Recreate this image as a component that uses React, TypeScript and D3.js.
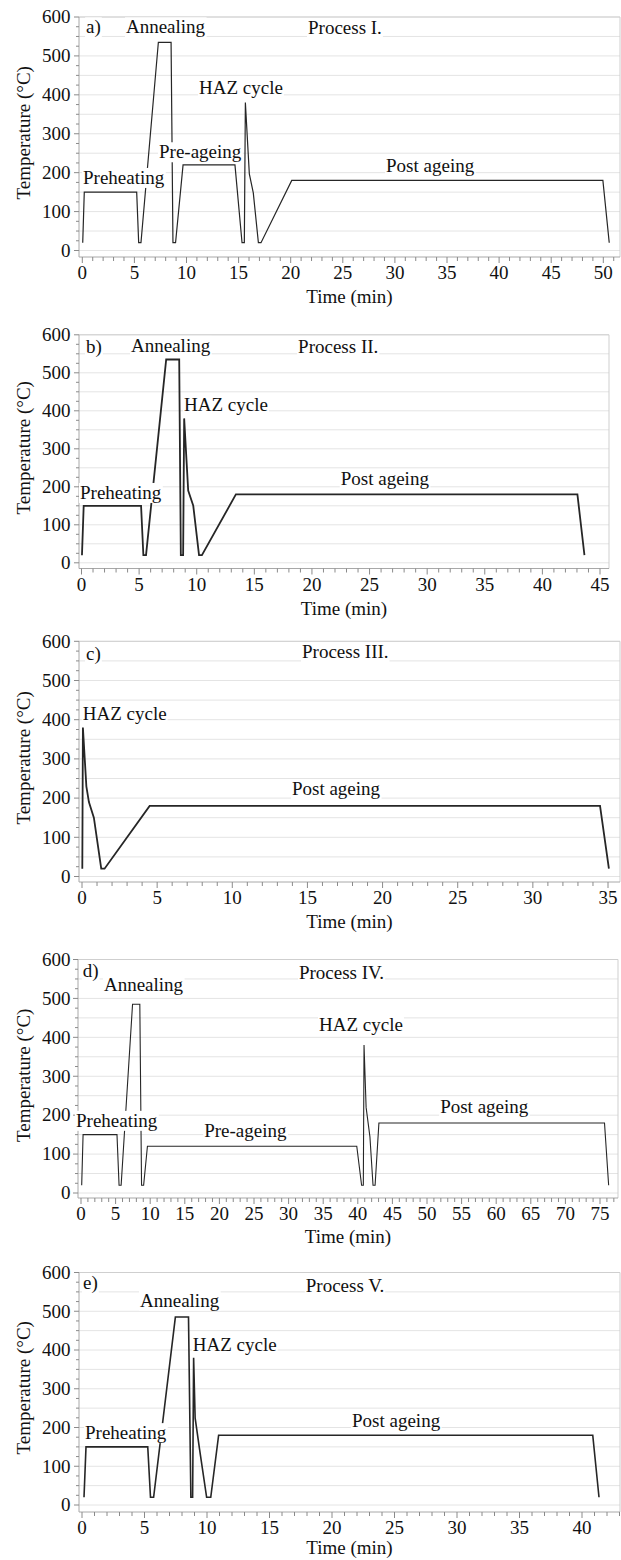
import React, { useEffect, useRef } from "react";
import * as d3 from "d3";

// ---------- DATA ----------
// Process I (panel a)
const timeI = [0.04, 0.19, 5.22, 5.41, 5.63, 7.3, 8.52, 8.7, 8.95, 9.67, 14.65, 15.33, 15.55, 15.65, 16.03, 16.41, 16.9, 17.15, 20.1, 49.96, 50.57];
const tempI = [20, 150, 150, 20, 20, 535, 535, 20, 20, 220, 220, 20, 20, 380, 197, 148, 20, 20, 180, 180, 20];

// Process II (panel b)
const timeII = [0.04, 0.19, 5.17, 5.37, 5.6, 7.35, 8.48, 8.62, 8.82, 8.91, 9.26, 9.7, 10.2, 10.45, 13.4, 43.04, 43.65];
const tempII = [20, 150, 150, 20, 20, 535, 535, 20, 20, 380, 190, 150, 20, 20, 180, 180, 20];

// Process III (panel c)
const timeIII = [0.02, 0.06, 0.29, 0.46, 0.79, 1.28, 1.5, 4.5, 34.47, 35.06];
const tempIII = [20, 380, 230, 190, 150, 20, 20, 180, 180, 20];

// Process IV (panel d)
const timeIV = [0.1, 0.3, 5.2, 5.5, 5.8, 7.45, 8.5, 8.75, 9.05, 9.6, 39.85, 40.55, 40.8, 40.9, 41.2, 41.75, 42.2, 42.5, 43.05, 75.65, 76.25];
const tempIV = [20, 150, 150, 20, 20, 485, 485, 20, 20, 120, 120, 20, 20, 380, 220, 145, 20, 20, 180, 180, 20];

// Process V (panel e)
const timeV = [0.16, 0.32, 5.26, 5.48, 5.73, 7.47, 8.52, 8.71, 8.85, 8.93, 9.05, 9.4, 9.97, 10.3, 10.93, 40.86, 41.36];
const tempV = [20, 150, 150, 20, 20, 485, 485, 20, 20, 380, 225, 145, 20, 20, 180, 180, 20];

// Annotations (anchor in data units: t = min, T = °C at text baseline)
const notesI = [
  { text: "a)", t: 0.36, T: 558 },
  { text: "Annealing", t: 4.19, T: 558 },
  { text: "Process I.", t: 21.66, T: 556 },
  { text: "HAZ cycle", t: 11.2, T: 401 },
  { text: "Pre-ageing", t: 7.36, T: 237 },
  { text: "Preheating", t: 0.07, T: 171 },
  { text: "Post ageing", t: 29.15, T: 202 },
];
const notesII = [
  { text: "b)", t: 0.39, T: 552 },
  { text: "Annealing", t: 4.3, T: 555 },
  { text: "Process II.", t: 18.8, T: 552 },
  { text: "HAZ cycle", t: 8.9, T: 400 },
  { text: "Preheating", t: -0.13, T: 168 },
  { text: "Post ageing", t: 22.5, T: 205 },
];
const notesIII = [
  { text: "c)", t: 0.27, T: 552 },
  { text: "Process III.", t: 14.64, T: 557 },
  { text: "HAZ cycle", t: 0.05, T: 399 },
  { text: "Post ageing", t: 13.97, T: 208 },
];
const notesIV = [
  { text: "d)", t: 0.25, T: 556 },
  { text: "Annealing", t: 3.32, T: 519 },
  { text: "Process IV.", t: 31.5, T: 550 },
  { text: "HAZ cycle", t: 34.4, T: 416 },
  { text: "Preheating", t: -0.72, T: 170 },
  { text: "Pre-ageing", t: 17.8, T: 144 },
  { text: "Post ageing", t: 51.9, T: 206 },
];
const notesV = [
  { text: "e)", t: 0.08, T: 557 },
  { text: "Annealing", t: 4.64, T: 512 },
  { text: "Process V.", t: 17.9, T: 550 },
  { text: "HAZ cycle", t: 8.86, T: 398 },
  { text: "Preheating", t: 0.24, T: 170 },
  { text: "Post ageing", t: 21.6, T: 202 },
];

const yTickValues = [0, 100, 200, 300, 400, 500, 600];
const xTitle = "Time (min)";
const yTitle = "Temperature (°C)";

// ---------- LAYOUT ----------
const PANELS = [
  { time: timeI, temp: tempI, notes: notesI, xRef: 50, xMaxTick: 51, x0: 82.3, x1: 603.3, y0: 250.5, y600: 17, axisY: 257, left: 79, right: 620, sw: 1.2, titleOff: 40 },
  { time: timeII, temp: tempII, notes: notesII, xRef: 45, xMaxTick: 45, x0: 81.5, x1: 600, y0: 562.8, y600: 334.8, axisY: 568.5, left: 79, right: 609, sw: 1.8, titleOff: 40 },
  { time: timeIII, temp: tempIII, notes: notesIII, xRef: 35, xMaxTick: 35, x0: 82, x1: 608, y0: 876.5, y600: 641.3, axisY: 882, left: 79, right: 620, sw: 1.8, titleOff: 40 },
  { time: timeIV, temp: tempIV, notes: notesIV, xRef: 75, xMaxTick: 77, x0: 81, x1: 600, y0: 1193, y600: 959.5, axisY: 1198, left: 78, right: 618, sw: 1.1, titleOff: 39 },
  { time: timeV, temp: tempV, notes: notesV, xRef: 40, xMaxTick: 43, x0: 82, x1: 582, y0: 1505, y600: 1272.5, axisY: 1512, left: 79, right: 620, sw: 1.6, titleOff: 36 },
];

const FONT = '"Liberation Serif", "Times New Roman", serif';
const FS = 19;

export default function App() {
  const ref = useRef<SVGSVGElement>(null);

  useEffect(() => {
    const svg = d3.select(ref.current);
    svg.selectAll("*").remove();

    PANELS.forEach((p) => {
      const g = svg.append("g");
      const x = d3.scaleLinear().domain([0, p.xRef]).range([p.x0, p.x1]);
      const y = d3.scaleLinear().domain([0, 600]).range([p.y0, p.y600]);
      const top = y(600);

      // gridlines
      g.append("g")
        .selectAll("line")
        .data(d3.range(0, 601, 50))
        .join("line")
        .attr("x1", p.left)
        .attr("x2", p.right)
        .attr("y1", (d) => y(d))
        .attr("y2", (d) => y(d))
        .attr("stroke", "#e4e4e4")
        .attr("stroke-width", 1);

      // frame (top & right)
      g.append("path")
        .attr("d", `M${p.left},${top}H${p.right}V${p.axisY}`)
        .attr("fill", "none")
        .attr("stroke", "#cfcfcf")
        .attr("stroke-width", 1);

      // axis lines
      g.append("path")
        .attr("d", `M${p.left},${top}V${p.axisY}H${p.right}`)
        .attr("fill", "none")
        .attr("stroke", "#a8a8a8")
        .attr("stroke-width", 1);

      // y ticks
      g.append("g")
        .selectAll("line")
        .data(d3.range(0, 601, 25))
        .join("line")
        .attr("x1", (d) => p.left - (d % 100 === 0 ? 5 : 3))
        .attr("x2", p.left)
        .attr("y1", (d) => y(d))
        .attr("y2", (d) => y(d))
        .attr("stroke", "#8a8a8a")
        .attr("stroke-width", 1);

      g.append("g")
        .selectAll("text")
        .data(yTickValues)
        .join("text")
        .attr("x", 70.5)
        .attr("y", (d) => y(d))
        .attr("dy", "0.33em")
        .attr("text-anchor", "end")
        .attr("font-family", FONT)
        .attr("font-size", FS)
        .attr("fill", "#111")
        .text((d) => String(d));

      // x ticks
      g.append("g")
        .selectAll("line")
        .data(d3.range(0, p.xMaxTick + 1, 1))
        .join("line")
        .attr("x1", (d) => x(d))
        .attr("x2", (d) => x(d))
        .attr("y1", p.axisY)
        .attr("y2", (d) => p.axisY + (d % 5 === 0 ? 6 : 4))
        .attr("stroke", "#8a8a8a")
        .attr("stroke-width", 1);

      g.append("g")
        .selectAll("text")
        .data(d3.range(0, p.xMaxTick + 1, 5))
        .join("text")
        .attr("x", (d) => x(d))
        .attr("y", p.axisY + 16)
        .attr("dy", "0.33em")
        .attr("text-anchor", "middle")
        .attr("font-family", FONT)
        .attr("font-size", FS)
        .attr("fill", "#111")
        .text((d) => String(d));

      // axis titles
      g.append("text")
        .attr("x", (p.left + p.right) / 2)
        .attr("y", p.axisY + p.titleOff)
        .attr("dy", "0.33em")
        .attr("text-anchor", "middle")
        .attr("font-family", FONT)
        .attr("font-size", FS)
        .attr("fill", "#111")
        .text(xTitle);

      const cy = (p.y0 + top) / 2 - 1;
      g.append("text")
        .attr("transform", `translate(29.5,${cy}) rotate(-90)`)
        .attr("text-anchor", "middle")
        .attr("font-family", FONT)
        .attr("font-size", FS)
        .attr("fill", "#111")
        .text(yTitle);

      // temperature profile
      const pts: [number, number][] = p.time.map((t, i) => [t, p.temp[i]]);
      const line = d3
        .line<[number, number]>()
        .x((d) => x(d[0]))
        .y((d) => y(d[1]));
      g.append("path")
        .attr("d", line(pts) as string)
        .attr("fill", "none")
        .attr("stroke", "#262626")
        .attr("stroke-width", p.sw)
        .attr("stroke-linejoin", "miter");

      // annotations with white background
      p.notes.forEach((n) => {
        const ng = g.append("g");
        const rect = ng.append("rect").attr("fill", "#fff");
        const txt = ng
          .append("text")
          .attr("x", x(n.t))
          .attr("y", y(n.T))
          .attr("font-family", FONT)
          .attr("font-size", FS)
          .attr("fill", "#111")
          .text(n.text);
        const bb = (txt.node() as SVGTextElement).getBBox();
        rect
          .attr("x", bb.x - 1)
          .attr("y", bb.y + 1)
          .attr("width", bb.width + 2)
          .attr("height", bb.height - 1);
      });
    });
  }, []);

  return (
    <svg
      ref={ref}
      width={621}
      height={1560}
      style={{ position: "absolute", left: 0, top: 0, background: "#fff", display: "block" }}
    />
  );
}
